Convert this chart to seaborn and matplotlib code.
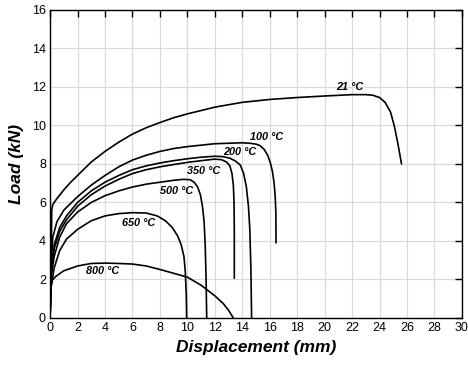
import pandas as pd
import seaborn as sns
import matplotlib
matplotlib.use("Agg")
import matplotlib.pyplot as plt

# curvas carga x deslocamento
x_21 = [0, 0.1, 0.12, 0.2, 0.5, 1, 1.5, 2, 3, 4, 5, 6, 7, 8, 9, 10, 12, 14, 16, 18, 20, 22, 23, 23.5, 24.0, 24.4, 24.8, 25.1, 25.35, 25.6]
y_21 = [0, 4.0, 5.6, 5.9, 6.2, 6.65, 7.05, 7.4, 8.1, 8.65, 9.13, 9.55, 9.88, 10.15, 10.4, 10.6, 10.95, 11.2, 11.35, 11.45, 11.53, 11.6, 11.6, 11.57, 11.45, 11.2, 10.7, 9.9, 9.0, 8.0]

x_100 = [0, 0.05, 0.2, 0.5, 1, 2, 3, 4, 5, 6, 7, 8, 9, 10, 12, 14, 14.6, 15.0, 15.3, 15.6, 15.85, 16.05, 16.2, 16.32, 16.4, 16.45, 16.46]
y_100 = [0, 2.5, 4.2, 5.0, 5.6, 6.3, 6.9, 7.4, 7.85, 8.2, 8.45, 8.65, 8.8, 8.9, 9.05, 9.1, 9.07, 9.03, 8.95, 8.75, 8.45, 8.05, 7.6, 7.0, 6.3, 5.4, 3.9]

x_200 = [0, 0.05, 0.3, 0.7, 1.2, 2, 3, 4, 5, 6, 7, 8, 9, 10, 11, 12, 12.6, 13.1, 13.5, 13.85, 14.1, 14.3, 14.45, 14.55, 14.63, 14.68]
y_200 = [0, 2.4, 3.8, 4.7, 5.3, 6.0, 6.6, 7.05, 7.4, 7.7, 7.9, 8.05, 8.17, 8.27, 8.35, 8.4, 8.38, 8.3, 8.15, 7.95, 7.5, 6.8, 5.8, 4.6, 2.5, 0]

x_350 = [0, 0.05, 0.3, 0.7, 1.2, 2, 3, 4, 5, 6, 7, 8, 9, 10, 11, 12, 12.5, 12.85, 13.1, 13.25, 13.35, 13.4, 13.42, 13.42]
y_350 = [0, 2.2, 3.6, 4.5, 5.1, 5.8, 6.4, 6.85, 7.2, 7.5, 7.7, 7.85, 7.97, 8.08, 8.17, 8.25, 8.22, 8.1, 7.9, 7.5, 6.9, 6.0, 4.5, 2.06]

x_500 = [0, 0.05, 0.3, 0.7, 1.2, 2, 3, 4, 5, 6, 7, 8, 9, 9.7, 10.2, 10.5, 10.75, 10.95, 11.1, 11.22, 11.3, 11.36, 11.41]
y_500 = [0, 2.0, 3.2, 4.2, 4.9, 5.5, 6.0, 6.35, 6.6, 6.8, 6.95, 7.05, 7.15, 7.2, 7.18, 7.05, 6.8, 6.4, 5.8, 5.0, 3.8, 2.2, 0]

x_650 = [0, 0.05, 0.3, 0.7, 1.2, 2, 3, 4, 5, 6, 7, 7.8, 8.4, 8.9, 9.3, 9.55, 9.75, 9.85, 9.92, 9.95]
y_650 = [0, 1.5, 2.6, 3.5, 4.1, 4.6, 5.05, 5.3, 5.42, 5.47, 5.45, 5.3, 5.05, 4.7, 4.25, 3.8, 3.2, 2.4, 1.2, 0]

x_800 = [0, 0.07, 0.15, 0.4, 1, 2, 3, 4, 5, 6, 7, 8, 9, 10, 11, 12, 12.6, 13.0, 13.35]
y_800 = [0, 1.6, 1.95, 2.15, 2.45, 2.7, 2.83, 2.85, 2.83, 2.8, 2.7, 2.52, 2.32, 2.12, 1.7, 1.15, 0.76, 0.4, 0]

temperaturas = ["21", "100", "200", "350", "500", "650", "800"]
curvas_x = [x_21, x_100, x_200, x_350, x_500, x_650, x_800]
curvas_y = [y_21, y_100, y_200, y_350, y_500, y_650, y_800]

# posicao dos rotulos de temperatura
label_x = [21.8, 15.8, 13.8, 11.15, 9.2, 6.45, 3.8]
label_y = [11.98, 9.39, 8.6, 7.65, 6.6, 4.95, 2.44]

tabela = pd.concat([
    pd.DataFrame({"desl": cx, "carga": cy, "temp": t})
    for cx, cy, t in zip(curvas_x, curvas_y, temperaturas)
], ignore_index=True)

sns.set_style("whitegrid", {"grid.color": "#d9d9d9", "axes.edgecolor": "black"})
plt.rcParams["font.family"] = ["Liberation Sans", "DejaVu Sans"]
plt.rcParams["xtick.direction"] = "in"
plt.rcParams["ytick.direction"] = "in"
plt.rcParams["text.color"] = "black"
plt.rcParams["axes.labelcolor"] = "black"
plt.rcParams["xtick.color"] = "black"
plt.rcParams["ytick.color"] = "black"

fig, ax = plt.subplots(figsize=(4.68, 3.68), dpi=100)
fig.subplots_adjust(left=0.107, right=0.987, top=0.973, bottom=0.136)

sns.lineplot(data=tabela, x="desl", y="carga", units="temp", estimator=None,
             sort=False, color="black", linewidth=1.2, ax=ax, legend=False)

for t, lx, ly in zip(temperaturas, label_x, label_y):
    ax.text(lx, ly, t + " °C", fontsize=7.8, fontweight="bold", fontstyle="italic",
            ha="center", va="center")

ax.set_xlim(0, 30)
ax.set_ylim(0, 16)
ax.set_xticks(range(0, 31, 2))
ax.set_yticks(range(0, 17, 2))
ax.tick_params(axis="both", which="both", length=5, width=1, color="black",
               labelsize=9, top=True, right=True, labeltop=False, labelright=False, pad=3)
for s in ax.spines.values():
    s.set_linewidth(1)
    s.set_color("black")
ax.grid(True, color="#d9d9d9", linewidth=0.9)

ax.set_xlabel("Displacement (mm)", fontsize=12.5, fontweight="bold", fontstyle="italic", labelpad=4)
ax.set_ylabel("Load (kN)", fontsize=12.5, fontweight="bold", fontstyle="italic", labelpad=6)

fig.savefig("out.png", dpi=100)
